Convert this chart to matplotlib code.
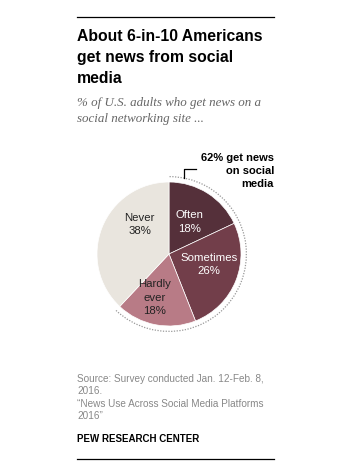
import numpy as np
import matplotlib
matplotlib.use("Agg")
import matplotlib.pyplot as plt
from matplotlib.patches import Arc

# data
categories = ["Often", "Sometimes", "Hardly\never", "Never"]
shares = [18, 26, 18, 38]
colors = ["#55303a", "#723e4a", "#b87b86", "#e9e5de"]
text_colors = ["white", "white", "#222222", "#222222"]
news_share = 62

W, H = 348, 474
fig = plt.figure(figsize=(W / 100, H / 100), dpi=100)
fig.patch.set_facecolor("white")


def fx(x):
    return x / W


def fy(y):
    return 1 - y / H


# rules top and bottom
fig.add_artist(plt.Line2D([fx(77), fx(274)], [fy(17), fy(17)], color="black", lw=0.9))
fig.add_artist(plt.Line2D([fx(77), fx(274)], [fy(459), fy(459)], color="black", lw=0.9))

# title + subtitle
fig.text(fx(77), fy(29), "About 6-in-10 Americans\nget news from social\nmedia",
         fontsize=11.3, fontweight="bold", family="Liberation Sans", va="top",
         linespacing=1.5, color="black")
fig.text(fx(77), fy(97), "% of U.S. adults who get news on a\nsocial networking site ...",
         fontsize=9.4, style="italic", family="Liberation Serif", va="top",
         linespacing=1.4, color="#666666")

# pie: center (169, 254), radius 80 px
R = 80
half = 90
ax = fig.add_axes([fx(169 - half), fy(254 + half), 2 * half / W, 2 * half / H])
ax.set_xlim(-half / R, half / R)
ax.set_ylim(-half / R, half / R)
ax.set_aspect("equal")
ax.axis("off")

wedges, _ = ax.pie(shares, colors=colors, startangle=90, counterclock=False,
                   radius=1, wedgeprops=dict(edgecolor="white", linewidth=0.5))

# label anchors (angle deg, radius fraction)
label_pos = [(57, 0.53), (-15, 0.57), (-108, 0.64), (135, 0.58)]
for name, val, (ang, rr), tc in zip(categories, shares, label_pos, text_colors):
    x = rr * np.cos(np.radians(ang))
    y = rr * np.sin(np.radians(ang))
    ax.text(x, y, f"{name}\n{val}%", ha="center", va="center", fontsize=8.2,
            family="Liberation Sans", color=tc, linespacing=1.45)

# dotted arc around the 62% share
ra = 86 / R
end = 90 - news_share * 3.6
arc = Arc((0, 0), 2 * ra, 2 * ra, theta1=end, theta2=90, color="#999999",
          lw=0.9, linestyle=(0, (1, 1.2)))
ax.add_patch(arc)

# bracket to the callout
bx = 17 / R
by = np.sqrt(ra ** 2 - bx ** 2)
top = 95 / R
ax.plot([bx, bx, 30 / R], [by, top, top], color="black", lw=0.9, clip_on=False)
fig.text(fx(274), fy(153), f"{news_share}% get news\non social\nmedia",
         ha="right", va="top", fontsize=8, fontweight="bold",
         family="Liberation Sans", linespacing=1.4)

# source
fig.text(fx(77), fy(374), "Source: Survey conducted Jan. 12-Feb. 8,\n2016.\n"
         "\u201cNews Use Across Social Media Platforms\n2016\u201d",
         fontsize=7.2, family="Liberation Sans", color="#888888", va="top",
         linespacing=1.3)
fig.text(fx(77), fy(434), "PEW RESEARCH CENTER", fontsize=7, fontweight="bold",
         family="Liberation Sans", va="top", color="black")

fig.savefig("out.png", dpi=100)
